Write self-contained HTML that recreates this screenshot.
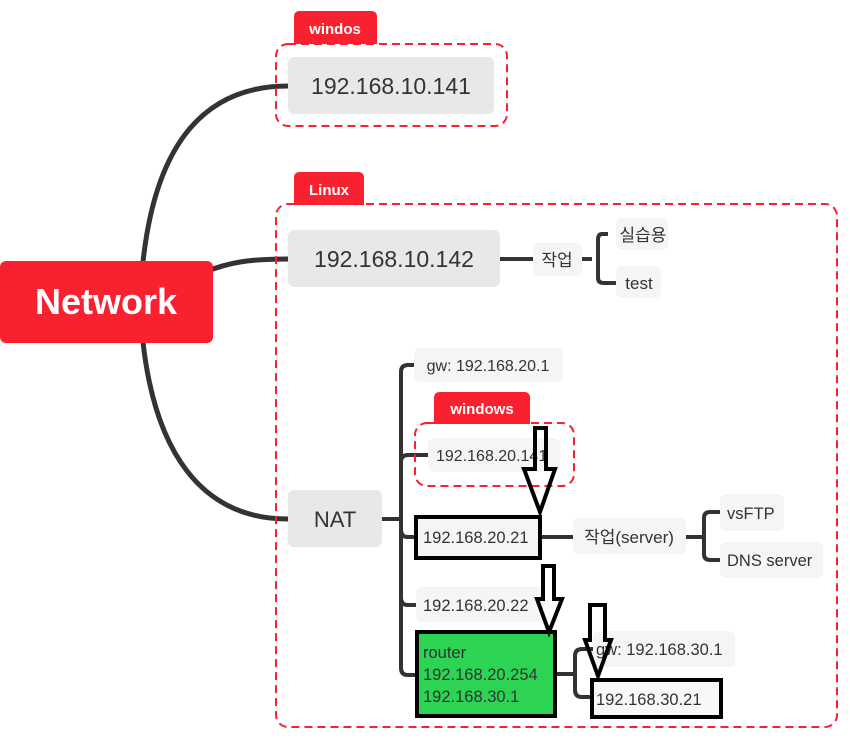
<!DOCTYPE html>
<html><head><meta charset="utf-8"><style>
html,body{margin:0;padding:0;background:#fff;}
svg{display:block;}
text{font-family:"Liberation Sans","Noto Sans CJK KR",sans-serif;fill:#333;}
</style></head><body>
<svg width="854" height="748" viewBox="0 0 854 748" xmlns="http://www.w3.org/2000/svg">
<g fill="none" stroke="#333" stroke-width="5" stroke-linecap="round">
<path d="M143 262 C155 150 200 86 288 86"/>
<path d="M205 272 C230 262 250 259 288 259"/>
<path d="M143 342 C155 450 200 519 288 519"/>
</g>
<g fill="none" stroke="#333" stroke-width="4">
<path d="M500 259 H533"/>
<path d="M582 259 H592 M608 234 H602 Q598 234 598 240 V278 Q598 283 604 283 H616"/>
<path d="M382 519 H400 M414 365 H408 Q401 365 401 372 V668 Q401 675 408 675 H416"/>
<path d="M401 462 Q401 455 408 455 H428"/>
<path d="M401 530 Q401 537 408 537 H416"/>
<path d="M401 598 Q401 605 408 605 H416"/>
<path d="M542 537 H573"/>
<path d="M686 537 H703 M720 512 H710 Q704 512 704 518 V554 Q704 560 710 560 H720"/>
<path d="M556 674 H574 M593 649 H582 Q575 649 575 656 V690 Q575 697 582 697 H591"/>
</g>
<rect x="0" y="261" width="213" height="82" rx="6" fill="#f9202f"/>
<text x="106" y="314" font-size="36" font-weight="bold" text-anchor="middle" style="fill:#fff">Network</text>
<path d="M294 44 V17 Q294 11 300 11 H371 Q377 11 377 17 V44 Z" fill="#f9202f"/>
<text x="335" y="34" font-size="15" font-weight="bold" text-anchor="middle" style="fill:#fff">windos</text>
<rect x="276" y="44" width="231" height="82" rx="12" fill="none" stroke="#f9202f" stroke-width="2" stroke-dasharray="8,5"/>
<rect x="288" y="57" width="206" height="57" rx="6" fill="#e8e8e8"/>
<text x="391" y="94" font-size="23" text-anchor="middle">192.168.10.141</text>
<path d="M294 205 V178 Q294 172 300 172 H358 Q364 172 364 178 V205 Z" fill="#f9202f"/>
<text x="329" y="195" font-size="15" font-weight="bold" text-anchor="middle" style="fill:#fff">Linux</text>
<rect x="276" y="204" width="561" height="523" rx="12" fill="none" stroke="#f9202f" stroke-width="2" stroke-dasharray="8,5"/>
<rect x="288" y="230" width="212" height="57" rx="6" fill="#e8e8e8"/>
<text x="394" y="267" font-size="23" text-anchor="middle">192.168.10.142</text>
<rect x="533" y="243" width="49" height="33" rx="6" fill="#f5f5f5"/>
<text x="557" y="266" font-size="17" text-anchor="middle">작업</text>
<rect x="616" y="218" width="52" height="32" rx="6" fill="#f5f5f5"/>
<text x="643" y="241" font-size="17" text-anchor="middle">실습용</text>
<rect x="616" y="266" width="45" height="32" rx="6" fill="#f5f5f5"/>
<text x="639" y="289" font-size="17" text-anchor="middle">test</text>
<rect x="288" y="490" width="94" height="57" rx="6" fill="#e8e8e8"/>
<text x="335" y="527" font-size="22" text-anchor="middle">NAT</text>
<rect x="414" y="348" width="149" height="34" rx="6" fill="#f5f5f5"/>
<text x="488" y="371" font-size="16" text-anchor="middle">gw: 192.168.20.1</text>
<path d="M434 424 V398 Q434 392 440 392 H524 Q530 392 530 398 V424 Z" fill="#f9202f"/>
<text x="482" y="414" font-size="15" font-weight="bold" text-anchor="middle" style="fill:#fff">windows</text>
<rect x="415" y="423" width="159" height="63" rx="12" fill="none" stroke="#f9202f" stroke-width="2" stroke-dasharray="8,5"/>
<rect x="428" y="438" width="132" height="34" rx="6" fill="#f5f5f5"/>
<text x="436" y="461" font-size="16">192.168.20.141</text>
<rect x="416" y="517" width="124" height="41" fill="#f5f5f5" stroke="#000" stroke-width="4"/>
<text x="423" y="543" font-size="16.5">192.168.20.21</text>
<rect x="573" y="518" width="113" height="36" rx="6" fill="#f5f5f5"/>
<text x="629" y="543" font-size="17" text-anchor="middle">작업(server)</text>
<rect x="720" y="494" width="64" height="37" rx="6" fill="#f5f5f5"/>
<text x="727" y="519" font-size="16.5">vsFTP</text>
<rect x="720" y="542" width="103" height="36" rx="6" fill="#f5f5f5"/>
<text x="727" y="566" font-size="16.5">DNS server</text>
<rect x="416" y="587" width="129" height="35" rx="6" fill="#f5f5f5"/>
<text x="423" y="611" font-size="16.5">192.168.20.22</text>
<rect x="417" y="632" width="138" height="84" fill="#2dd352" stroke="#000" stroke-width="4"/>
<text x="423" y="658" font-size="16.5">router</text>
<text x="423" y="680" font-size="16.5">192.168.20.254</text>
<text x="423" y="702" font-size="16.5">192.168.30.1</text>
<rect x="593" y="631" width="142" height="36" rx="6" fill="#f5f5f5"/>
<text x="596" y="655" font-size="16.5">gw: 192.168.30.1</text>
<rect x="592" y="680" width="129" height="37" fill="#f8f8f8" stroke="#000" stroke-width="4"/>
<text x="596" y="705" font-size="16.5">192.168.30.21</text>
<g fill="none" stroke="#000" stroke-width="4" stroke-linejoin="miter">
<path d="M535 428 H546 V469 H555 L540 512 L524 469 H535 Z"/>
<path d="M543 566 H554 V599 H562 L549 632 L537 599 H543 Z"/>
<path d="M590 605 H605 V640 H611 L598 676 L585 640 H590 Z"/>
</g>
</svg>
</body></html>
